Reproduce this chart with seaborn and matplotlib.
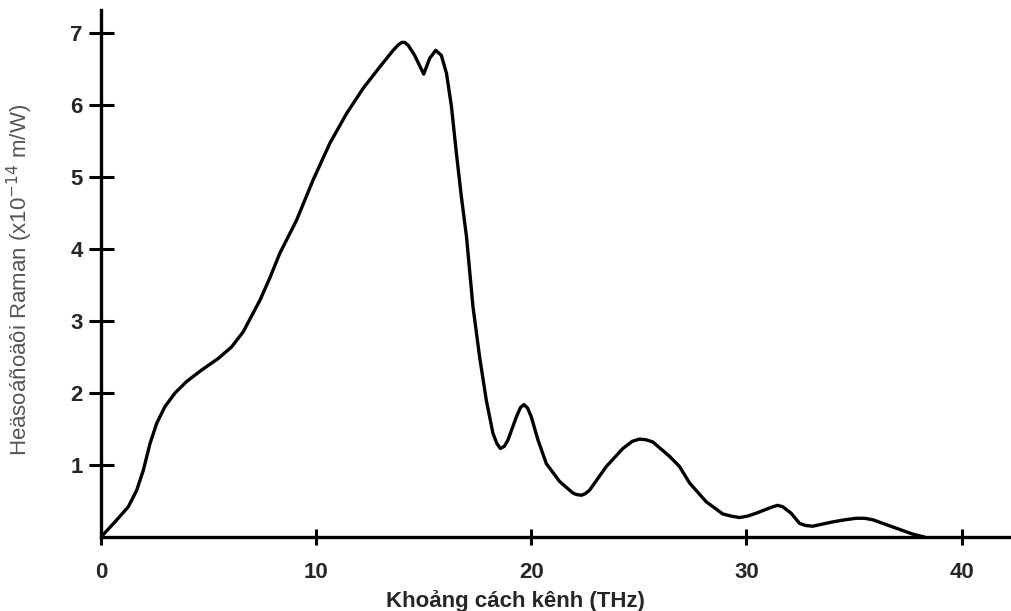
import matplotlib
matplotlib.use("Agg")
import matplotlib.pyplot as plt
import seaborn as sns
import pandas as pd

# Raman gain coefficient versus channel spacing
spacing_thz = [0.0, 0.65, 1.27, 1.66, 1.97, 2.28, 2.59, 2.97, 3.44, 3.98, 4.68, 5.45,
               6.07, 6.61, 7.07, 7.39, 7.85, 8.31, 9.09, 9.86, 10.64, 11.41, 12.18,
               12.96, 13.58, 13.8, 13.97, 14.12, 14.28, 14.58, 15.0, 15.28, 15.56,
               15.82, 16.06, 16.29, 16.52, 16.75, 16.99, 17.29, 17.60, 17.91, 18.22,
               18.4, 18.56, 18.75, 18.92, 19.31, 19.5, 19.66, 19.83, 20.0, 20.31,
               20.70, 21.32, 21.94, 22.1, 22.33, 22.5, 22.71, 23.49, 24.26, 24.7,
               25.03, 25.35, 25.65, 26.43, 26.89, 27.36, 28.13, 28.9, 29.3, 29.68,
               30.05, 30.45, 31.23, 31.45, 31.69, 32.08, 32.47, 32.75, 33.08, 34.01,
               34.6, 35.1, 35.5, 35.87, 36.8, 37.73, 38.27]
gain = [0.0, 0.21, 0.42, 0.65, 0.93, 1.30, 1.58, 1.81, 2.0, 2.16, 2.32, 2.48,
        2.64, 2.85, 3.11, 3.29, 3.6, 3.94, 4.40, 4.96, 5.47, 5.88, 6.23,
        6.53, 6.76, 6.83, 6.87, 6.87, 6.83, 6.69, 6.43, 6.65, 6.76,
        6.69, 6.44, 5.98, 5.33, 4.73, 4.17, 3.20, 2.50, 1.90, 1.44,
        1.30, 1.23, 1.26, 1.35, 1.67, 1.80, 1.84, 1.79, 1.67, 1.35,
        1.02, 0.77, 0.61, 0.59, 0.58, 0.60, 0.65, 0.98, 1.23, 1.33,
        1.36, 1.35, 1.32, 1.12, 0.98, 0.75, 0.49, 0.32, 0.29, 0.27,
        0.29, 0.33, 0.42, 0.44, 0.42, 0.33, 0.19, 0.16, 0.15, 0.21,
        0.24, 0.26, 0.26, 0.24, 0.14, 0.04, 0.0]

x_ticks = [0, 10, 20, 30, 40]
x_tick_labels = ["0", "10", "20", "30", "40"]
y_ticks = [1, 2, 3, 4, 5, 6, 7]
y_tick_labels = ["1", "2", "3", "4", "5", "6", "7"]

df = pd.DataFrame({"spacing": spacing_thz, "gain": gain})

sns.set_style("white")
plt.rcParams["font.family"] = ["Liberation Sans", "DejaVu Sans"]

fig = plt.figure(figsize=(10.11, 6.11), dpi=100)
ax = fig.add_axes([0.0999, 0.1211, 0.9001, 0.8625])

sns.lineplot(data=df, x="spacing", y="gain", sort=False, estimator=None,
             color="black", linewidth=2.4, ax=ax)
ax.lines[0].set_solid_joinstyle("round")

ax.set_xlim(0, 42.3)
ax.set_ylim(0, 7.32)

for side in ("top", "right"):
    ax.spines[side].set_visible(False)
for side in ("left", "bottom"):
    ax.spines[side].set_color("black")
    ax.spines[side].set_linewidth(2.4)

ax.set_xticks(x_ticks)
ax.set_xticklabels(x_tick_labels, fontsize=16, fontweight="bold")
ax.set_yticks(y_ticks)
ax.set_yticklabels(y_tick_labels, fontsize=16, fontweight="bold")

ax.tick_params(axis="y", left=True, direction="inout", length=18, width=2.2,
               color="black", pad=4)
ax.tick_params(axis="x", bottom=True, direction="inout", length=12, width=2.2,
               color="black", pad=12)

ax.set_xlabel("Khoảng cách kênh (THz)", fontsize=16, fontweight="bold")
ax.xaxis.set_label_coords(0.455, -0.1)
ax.set_ylabel("Heäsoáñoäôi Raman (x10$^{-14}$ m/W)", fontsize=16, color="#555555")
ax.yaxis.set_label_coords(-0.0725, 0.488)

fig.savefig("out.png", dpi=100)
